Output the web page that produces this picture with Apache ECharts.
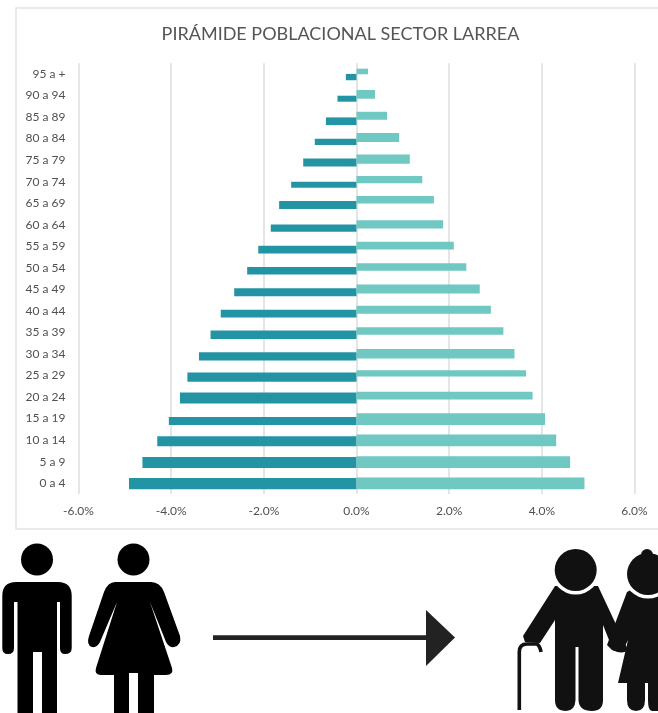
<!DOCTYPE html>
<html>
<head>
<meta charset="utf-8">
<style>html,body{margin:0;padding:0;background:#fff}#c{width:658px;height:713px}</style>
<script src="https://cdn.jsdelivr.net/npm/echarts@6/dist/echarts.min.js"></script>
</head>
<body>
<div id="c"></div>
<script>
// ---- data (youngest first: the category axis runs bottom to top)
const categories = ['0 a 4','5 a 9','10 a 14','15 a 19','20 a 24','25 a 29','30 a 34','35 a 39','40 a 44','45 a 49','50 a 54','55 a 59','60 a 64','65 a 69','70 a 74','75 a 79','80 a 84','85 a 89','90 a 94','95 a +'];
const leftValues = [-4.91,-4.62,-4.30,-4.05,-3.81,-3.65,-3.40,-3.15,-2.93,-2.64,-2.36,-2.12,-1.85,-1.67,-1.41,-1.15,-0.90,-0.66,-0.41,-0.23];
const rightValues = [4.92,4.61,4.31,4.07,3.80,3.66,3.41,3.17,2.90,2.66,2.37,2.10,1.87,1.67,1.42,1.15,0.92,0.66,0.40,0.25];

// ---- style: uneven bar thickness and vertical nudge seen in the reference
const leftThick = [11.3,11,10,8,11,9.4,8.3,8.7,7.6,8,7.4,7.6,7.4,8,6,8,6.3,7.7,6,6.3];
const leftNudge = [.35,.7,1.1,2.3,.9,1.6,2.3,2.3,2.7,2.8,2.9,3.3,3.4,1.9,3.1,2.3,3.3,4.2,3.2,3.1];
const rightThick = [11.7,11.7,11.7,11.7,7.6,6.3,9.6,7.7,8,9,7.7,7.6,8.3,7.3,7.3,9.4,9,8,8.7,5.6];
const rightNudge = [.15,.35,.25,.45,-1.4,-2.25,-.3,-1.45,-1.1,-.4,-.85,-.7,-.45,-3.45,-1.95,-1,-1,-1.3,-1.15,-2.5];

function barRenderer(thick, nudge, color) {
  return function (params, api) {
    const i = api.value(1);
    const base = api.coord([0, i]);
    const end = api.coord([api.value(0), i]);
    const t = thick[i], cy = base[1] + nudge[i];
    return {
      type: 'rect',
      shape: { x: Math.min(base[0], end[0]), y: cy - t / 2, width: Math.abs(end[0] - base[0]), height: t },
      style: { fill: color }
    };
  };
}

function pairs(vals) { return vals.map((v, i) => [v, i]); }

// ---- decorative pictograms under the chart
const iconShapes = {
  iconMan: 'M2.3 596 Q2.3 582 16 582 L58 582 Q71.7 582 71.7 596 L71.7 648 Q71.7 654 65 654 Q60 654 60 648 L60 602 L57 602 L57 713 L42 713 L42 652 L33 652 L33 713 L17.5 713 L17.5 602 L14 602 L14 648 Q14 654 8 654 Q2.3 654 2.3 648 Z',
  iconWoman: 'M115 582 L151 582 Q160 582 164 592 L180 636 Q182 645 174 647 Q169 648 166 642 L150 602 L172 668 Q174 675 166 675 L154 675 L154 713 L138 713 L138 673 L129 673 L129 713 L114 713 L114 675 L101 675 Q94 675 96 668 L117 602 L100 642 Q97 648 92 647 Q86 645 89 636 L104 592 Q108 582 115 582 Z',
  iconOldMan: 'M555 586 L598 586 L628 650 Q622 655 613 650 L603 625 L603 700 Q603 711 592 711 Q579 711 578.5 700 L578.5 647 L575.5 647 L575.5 700 Q575 711 566 711 Q555 711 555 700 L555 620 L540 643 L525 642 L523 636 Z',
  iconCane: 'M519.3 710 L519.3 652 Q519.3 644 527 644 L537 644 Q540 646 541 652',
  iconOldWoman: 'M627 592 L640 585 L660 585 L660 711 L652 711 Q648 711 648 700 L648 683 L645 683 L645 700 Q645 711 636 711 Q627 711 627 700 L627 683 L618 683 L628 640 Q622 655 612 650 L607 645 Z'
};
Object.keys(iconShapes).forEach(k => echarts.graphic.registerShape(k, echarts.graphic.extendPath(iconShapes[k], {})));

const INK = '#000';
const chart = echarts.init(document.getElementById('c'), null, { renderer: 'canvas' });
chart.setOption({
  backgroundColor: '#fff',
  animation: false,
  title: {
    text: 'PIRÁMIDE POBLACIONAL SECTOR LARREA',
    left: 335.5, top: 20, textAlign: 'center',
    textStyle: { fontFamily: 'Lato', fontSize: 18, fontWeight: 'normal', color: '#555555' }
  },
  grid: { left: 78.5, right: 23.5, top: 63.2, height: 430.8, containLabel: false },
  xAxis: {
    type: 'value', min: -6, max: 6, interval: 2,
    axisLine: { show: false }, axisTick: { show: false },
    splitLine: { show: true, lineStyle: { color: '#dcdcdc', width: 1.5 } },
    axisLabel: { formatter: v => v.toFixed(1) + '%', color: '#505050', fontFamily: 'Lato', fontSize: 12, margin: 11 }
  },
  yAxis: {
    type: 'category', data: categories,
    axisLine: { show: false }, axisTick: { show: false },
    axisLabel: { color: '#505050', fontFamily: 'Lato', fontSize: 12, margin: 13 }
  },
  series: [
    { type: 'custom', name: 'Izquierda', data: pairs(leftValues), encode: { x: 0, y: 1 }, clip: false, z: 3,
      renderItem: barRenderer(leftThick, leftNudge, '#2394a4') },
    { type: 'custom', name: 'Derecha', data: pairs(rightValues), encode: { x: 0, y: 1 }, clip: false, z: 4,
      renderItem: barRenderer(rightThick, rightNudge, '#6fc8c2') }
  ],
  graphic: { elements: [
    { type: 'rect', silent: true, z: -1, shape: { x: 16, y: 8, width: 660, height: 521 }, style: { fill: 'none', stroke: '#e3e3e3', lineWidth: 1.5 } },
    { type: 'circle', shape: { cx: 37, cy: 559.5, r: 16 }, style: { fill: INK } },
    { type: 'iconMan', style: { fill: INK } },
    { type: 'circle', shape: { cx: 133.5, cy: 559.5, r: 16 }, style: { fill: INK } },
    { type: 'iconWoman', style: { fill: INK } },
    { type: 'rect', shape: { x: 213, y: 635.3, width: 215, height: 4.6 }, style: { fill: '#222' } },
    { type: 'polygon', shape: { points: [[426, 610], [455, 637.5], [426, 666]] }, style: { fill: '#222' } },
    { type: 'iconOldMan', style: { fill: '#111' } },
    { type: 'iconCane', style: { fill: 'none', stroke: '#111', lineWidth: 3.6 } },
    { type: 'iconOldWoman', style: { fill: '#111' } },
    { type: 'circle', shape: { cx: 575.7, cy: 570, r: 24.5 }, style: { fill: '#fff' } },
    { type: 'circle', shape: { cx: 575.7, cy: 570, r: 21 }, style: { fill: '#111' } },
    { type: 'circle', shape: { cx: 648, cy: 574, r: 24.5 }, style: { fill: '#fff' } },
    { type: 'circle', shape: { cx: 648, cy: 574, r: 21 }, style: { fill: '#111' } },
    { type: 'circle', shape: { cx: 647, cy: 555, r: 6 }, style: { fill: '#111' } }
  ] }
});
</script>
</body>
</html>
